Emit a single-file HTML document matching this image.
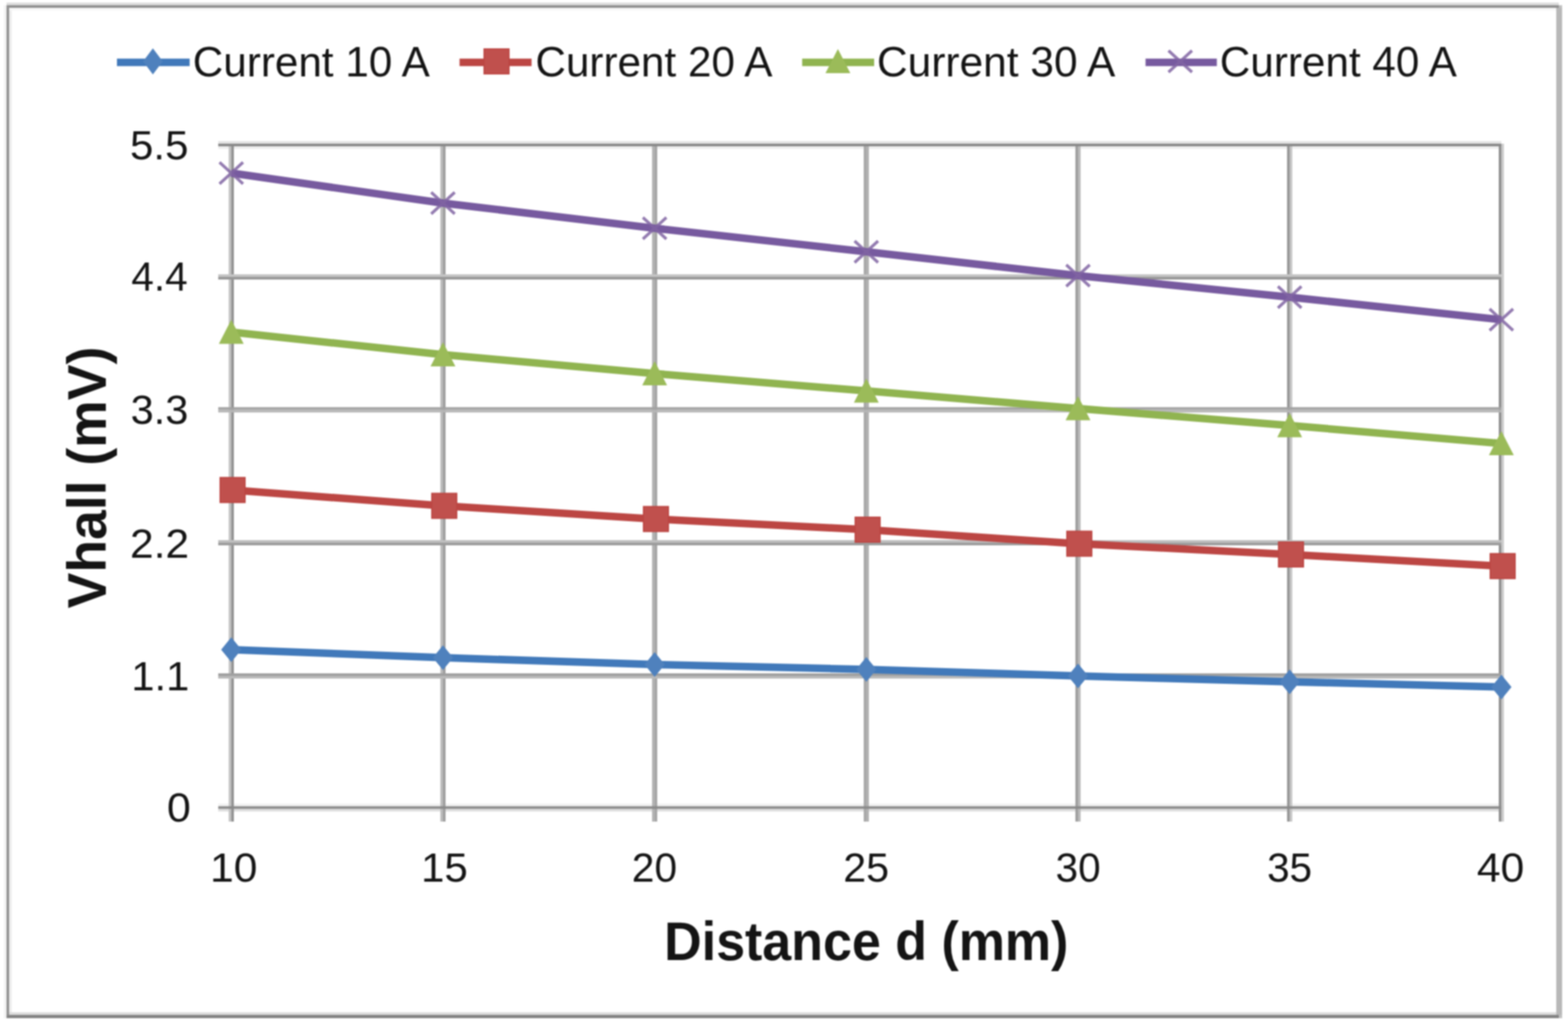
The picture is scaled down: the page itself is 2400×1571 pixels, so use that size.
<!DOCTYPE html><html><head><meta charset="utf-8"><title>Vhall vs Distance</title>
<style>html,body{margin:0;padding:0;background:#fff;}svg{display:block;filter:blur(0.8px);}text{font-family:'Liberation Sans', Arial, sans-serif;fill:#141414;}</style></head><body>
<svg width="2400" height="1571" viewBox="0 0 2400 1571">
<rect width="2400" height="1571" fill="#ffffff"/>
<rect x="10" y="4" width="2376" height="4" fill="#dcdcdc"/>
<rect x="6" y="8" width="4" height="1551" fill="#f3f3f3"/>
<rect x="14" y="12" width="4" height="1538" fill="#eeeeee"/>
<rect x="14" y="12" width="2368" height="4" fill="#f7f7f7"/>
<rect x="10" y="1550" width="2372" height="4" fill="#dcdcdc"/>
<rect x="10" y="8" width="2376" height="4" fill="#909090"/>
<rect x="10" y="8" width="4" height="1551" fill="#929292"/>
<rect x="2382" y="12" width="9" height="1542" fill="#b8b8b8"/>
<rect x="2386" y="8" width="5" height="4" fill="#c0c0c0"/>
<rect x="10" y="1554" width="2376" height="5" fill="#848484"/>
<rect x="2386" y="1554" width="5" height="5" fill="#c0c0c0"/>
<rect x="334" y="216" width="1964" height="4" fill="#e4e4e4"/>
<rect x="334" y="224" width="1964" height="4" fill="#eeeeee"/>
<rect x="334" y="1230.5" width="1964" height="4" fill="#f2f2f2"/>
<rect x="334" y="1238.5" width="1964" height="4" fill="#dedede"/>
<rect x="350" y="220" width="4" height="1038" fill="#c4c4c4"/>
<rect x="354" y="220" width="4" height="1038" fill="#939393"/>
<rect x="674" y="220" width="4" height="1038" fill="#bbbbbb"/>
<rect x="678" y="220" width="4" height="1038" fill="#9f9f9f"/>
<rect x="998" y="220" width="4" height="1038" fill="#b3b3b3"/>
<rect x="1002" y="220" width="4" height="1038" fill="#a6a6a6"/>
<rect x="1322" y="220" width="4" height="1038" fill="#a8a8a8"/>
<rect x="1326" y="220" width="4" height="1038" fill="#b2b2b2"/>
<rect x="1646" y="220" width="4" height="1038" fill="#9f9f9f"/>
<rect x="1650" y="220" width="4" height="1038" fill="#bababa"/>
<rect x="1970" y="220" width="4" height="1038" fill="#979797"/>
<rect x="1974" y="220" width="4" height="1038" fill="#c6c6c6"/>
<rect x="2294" y="220" width="4" height="1038" fill="#909090"/>
<rect x="2298" y="220" width="4" height="1038" fill="#cccccc"/>
<rect x="334" y="220" width="1964" height="4" fill="#898989"/>
<rect x="334" y="420" width="1964" height="4" fill="#c4c4c4"/>
<rect x="334" y="424" width="1964" height="4" fill="#979797"/>
<rect x="334" y="623.5" width="1964" height="4" fill="#a2a2a2"/>
<rect x="334" y="627.5" width="1964" height="4" fill="#b6b6b6"/>
<rect x="334" y="827" width="1964" height="4" fill="#bfbfbf"/>
<rect x="334" y="831" width="1964" height="4" fill="#9c9c9c"/>
<rect x="334" y="1031" width="1964" height="4" fill="#a0a0a0"/>
<rect x="334" y="1035" width="1964" height="4" fill="#b9b9b9"/>
<rect x="334" y="1234.5" width="1964" height="4" fill="#8a8a8a"/>
<polyline points="354,994.7 678,1007 1002,1017.5 1326,1025 1650,1035 1974,1044 2298,1052" fill="none" stroke="#4179ba" stroke-width="11.5" stroke-linejoin="round"/>
<path d="M354 975.7L369.5 994.7L354 1013.7L338.5 994.7Z" fill="#4f81bd"/>
<path d="M678 988L693.5 1007L678 1026L662.5 1007Z" fill="#4f81bd"/>
<path d="M1002 998.5L1017.5 1017.5L1002 1036.5L986.5 1017.5Z" fill="#4f81bd"/>
<path d="M1326 1006L1341.5 1025L1326 1044L1310.5 1025Z" fill="#4f81bd"/>
<path d="M1650 1016L1665.5 1035L1650 1054L1634.5 1035Z" fill="#4f81bd"/>
<path d="M1974 1025L1989.5 1044L1974 1063L1958.5 1044Z" fill="#4f81bd"/>
<path d="M2298 1033L2313.5 1052L2298 1071L2282.5 1052Z" fill="#4f81bd"/>
<polyline points="354,750.3 678,774.5 1002,794.7 1326,811 1650,832.5 1974,849 2298,866.8" fill="none" stroke="#bc4643" stroke-width="11.5" stroke-linejoin="round"/>
<rect x="337" y="731.3" width="38" height="38" fill="#c0504d" stroke="#bc4643" stroke-width="2"/>
<rect x="661" y="755.5" width="38" height="38" fill="#c0504d" stroke="#bc4643" stroke-width="2"/>
<rect x="985" y="775.7" width="38" height="38" fill="#c0504d" stroke="#bc4643" stroke-width="2"/>
<rect x="1309" y="792" width="38" height="38" fill="#c0504d" stroke="#bc4643" stroke-width="2"/>
<rect x="1633" y="813.5" width="38" height="38" fill="#c0504d" stroke="#bc4643" stroke-width="2"/>
<rect x="1957" y="830" width="38" height="38" fill="#c0504d" stroke="#bc4643" stroke-width="2"/>
<rect x="2281" y="847.8" width="38" height="38" fill="#c0504d" stroke="#bc4643" stroke-width="2"/>
<polyline points="354,508.5 678,543 1002,572 1326,598.6 1650,625.5 1974,651.5 2298,679" fill="none" stroke="#90b450" stroke-width="11.5" stroke-linejoin="round"/>
<path d="M354 489.5L373 526.5L335 526.5Z" fill="#9bbb59"/>
<path d="M678 524L697 561L659 561Z" fill="#9bbb59"/>
<path d="M1002 553L1021 590L983 590Z" fill="#9bbb59"/>
<path d="M1326 579.6L1345 616.6L1307 616.6Z" fill="#9bbb59"/>
<path d="M1650 606.5L1669 643.5L1631 643.5Z" fill="#9bbb59"/>
<path d="M1974 632.5L1993 669.5L1955 669.5Z" fill="#9bbb59"/>
<path d="M2298 660L2317 697L2279 697Z" fill="#9bbb59"/>
<polyline points="354,265 678,311 1002,349.5 1326,385.5 1650,422 1974,455 2298,489.5" fill="none" stroke="#775a9f" stroke-width="11.5" stroke-linejoin="round"/>
<path d="M336 248.5L372 281.5M372 248.5L336 281.5" stroke="#8064a2" stroke-width="4.5" stroke-opacity="0.85" fill="none"/>
<path d="M660 294.5L696 327.5M696 294.5L660 327.5" stroke="#8064a2" stroke-width="4.5" stroke-opacity="0.85" fill="none"/>
<path d="M984 333L1020 366M1020 333L984 366" stroke="#8064a2" stroke-width="4.5" stroke-opacity="0.85" fill="none"/>
<path d="M1308 369L1344 402M1344 369L1308 402" stroke="#8064a2" stroke-width="4.5" stroke-opacity="0.85" fill="none"/>
<path d="M1632 405.5L1668 438.5M1668 405.5L1632 438.5" stroke="#8064a2" stroke-width="4.5" stroke-opacity="0.85" fill="none"/>
<path d="M1956 438.5L1992 471.5M1992 438.5L1956 471.5" stroke="#8064a2" stroke-width="4.5" stroke-opacity="0.85" fill="none"/>
<path d="M2280 473L2316 506M2316 473L2280 506" stroke="#8064a2" stroke-width="4.5" stroke-opacity="0.85" fill="none"/>
<path d="M179 95.5H290.3" stroke="#4179ba" stroke-width="11.5" fill="none"/>
<path d="M234 74L249 94L234 114L219 94Z" fill="#4f81bd"/>
<path d="M703.4 95.5H813.6" stroke="#bc4643" stroke-width="11.5" fill="none"/>
<rect x="741" y="75" width="38" height="38" fill="#c0504d" stroke="#bc4643" stroke-width="2"/>
<path d="M1227.8 95.5H1338" stroke="#90b450" stroke-width="11.5" fill="none"/>
<path d="M1282.5 75L1301.5 112L1263.5 112Z" fill="#9bbb59"/>
<path d="M1753.4 95.5H1862.5" stroke="#775a9f" stroke-width="11.5" fill="none"/>
<path d="M1788.5 77.5L1824.5 110.5M1824.5 77.5L1788.5 110.5" stroke="#8064a2" stroke-width="4.5" stroke-opacity="0.85" fill="none"/>
<text x="295" y="117" font-size="64.45" textLength="362.99" lengthAdjust="spacingAndGlyphs">Current 10 A</text>
<text x="819.5" y="117" font-size="64.45" textLength="362.88" lengthAdjust="spacingAndGlyphs">Current 20 A</text>
<text x="1342.3" y="117" font-size="64.45" textLength="364.89" lengthAdjust="spacingAndGlyphs">Current 30 A</text>
<text x="1867.1" y="117" font-size="64.45" textLength="362.88" lengthAdjust="spacingAndGlyphs">Current 40 A</text>
<text x="199.1" y="244" font-size="63.5" textLength="89.25" lengthAdjust="spacingAndGlyphs">5.5</text>
<text x="201" y="444.5" font-size="62.93" textLength="86.21" lengthAdjust="spacingAndGlyphs">4.4</text>
<text x="200.1" y="648.5" font-size="63.02" textLength="88.19" lengthAdjust="spacingAndGlyphs">3.3</text>
<text x="199.1" y="853.5" font-size="63.5" textLength="90.34" lengthAdjust="spacingAndGlyphs">2.2</text>
<text x="201" y="1056.5" font-size="63.02" textLength="88.66" lengthAdjust="spacingAndGlyphs">1.1</text>
<text x="255.4" y="1257.5" font-size="62.93" textLength="36.53" lengthAdjust="spacingAndGlyphs">0</text>
<text x="321.5" y="1349.5" font-size="62.93" textLength="72.46" lengthAdjust="spacingAndGlyphs">10</text>
<text x="644.6" y="1349.5" font-size="62.93" textLength="71.44" lengthAdjust="spacingAndGlyphs">15</text>
<text x="967.1" y="1349.5" font-size="62.93" textLength="69.26" lengthAdjust="spacingAndGlyphs">20</text>
<text x="1290.7" y="1349.5" font-size="62.93" textLength="70.04" lengthAdjust="spacingAndGlyphs">25</text>
<text x="1615.8" y="1349.5" font-size="62.93" textLength="68.84" lengthAdjust="spacingAndGlyphs">30</text>
<text x="1939.4" y="1349.5" font-size="62.93" textLength="68.86" lengthAdjust="spacingAndGlyphs">35</text>
<text x="2260.4" y="1349.5" font-size="62.93" textLength="72.59" lengthAdjust="spacingAndGlyphs">40</text>
<text x="1016.6" y="1470" font-size="84" font-weight="bold" textLength="618.72" lengthAdjust="spacingAndGlyphs">Distance d (mm)</text>
<text transform="translate(162 931.5) rotate(-90)" font-size="84" font-weight="bold" textLength="400.67" lengthAdjust="spacingAndGlyphs">Vhall (mV)</text>
</svg></body></html>
